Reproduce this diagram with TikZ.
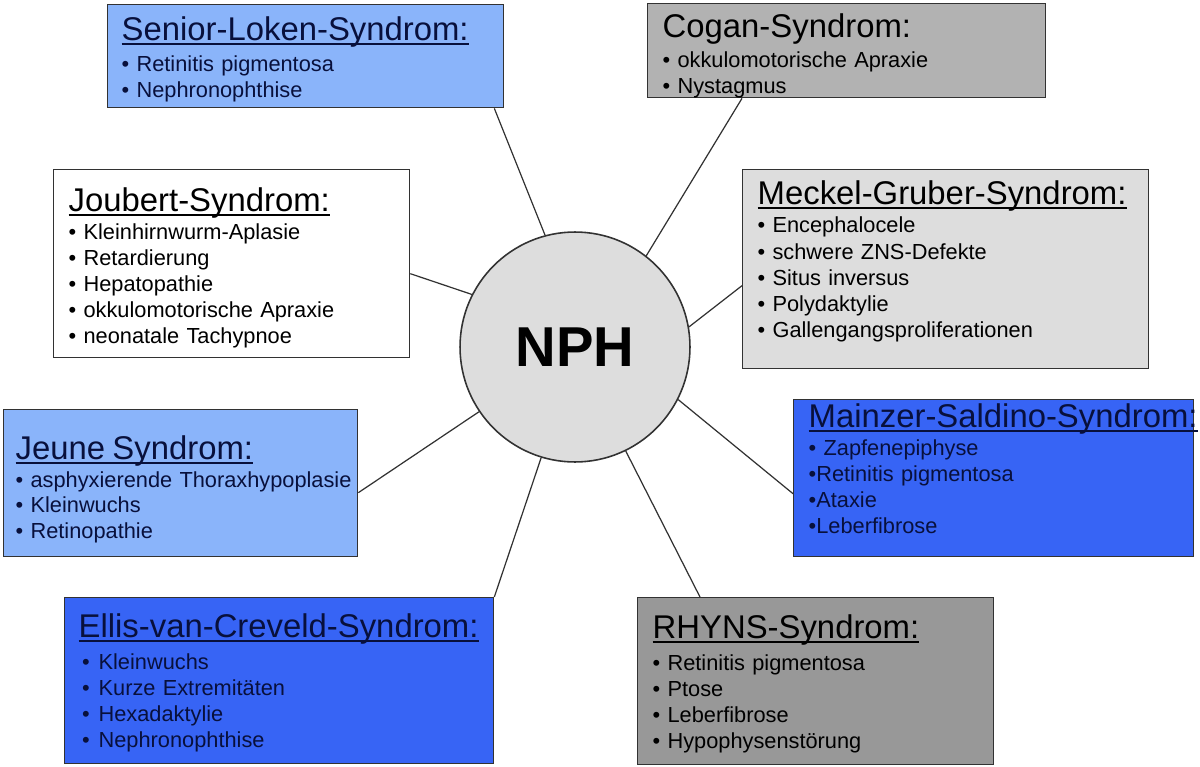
\documentclass[tikz,border=0pt]{standalone}
\usepackage{fontspec}
\setmainfont{Liberation Sans}
\definecolor{hellblau}{RGB}{138,180,250}
\definecolor{blau}{RGB}{55,100,245}
\definecolor{grau}{RGB}{178,178,178}
\definecolor{dunkelgrau}{RGB}{152,152,152}
\definecolor{hellgrau}{RGB}{221,221,221}
\definecolor{rand}{RGB}{50,50,50}
\definecolor{navy}{RGB}{8,16,60}
\newcommand\synul[1]{\setbox0\hbox{#1}\rlap{\rule[-2.2pt]{\wd0}{1.1pt}}\box0}
\newcommand\syntitle[1]{{\fontsize{18.7}{22}\selectfont\synul{#1}}}
\newcommand\synplain[1]{{\fontsize{18.7}{22}\selectfont #1}}
\tikzset{
  synbox/.style={draw=rand, line width=0.8pt, rectangle, anchor=north west,
    inner ysep=0pt, align=left, font=\fontsize{12.4}{14.86}\selectfont},
  link/.style={draw=rand, line width=0.7pt}
}
\begin{document}
\begin{tikzpicture}[x=0.02cm,y=-0.02cm]
	\useasboundingbox (0,0) rectangle (1200,767);
	% center
	\node[circle, draw=rand, line width=0.9pt, fill=hellgrau, minimum size=4.6cm,
	  font=\fontsize{32}{38}\selectfont\bfseries] (npc) at (575,347) {NPH};
	% boxes
	\node[synbox, fill=hellblau, text=navy, text width=7.36cm, inner xsep=0.28cm,
	  text height=0.72cm, text depth=1.34cm] (senior) at (107,4)
	  {\begin{tabular}[t]{@{}l@{}}\syntitle{Senior-Loken-Syndrom:}\\[2.5pt]
	  \textbullet\ Retinitis pigmentosa\\
	  \textbullet\ Nephronophthise\end{tabular}};
	\node[synbox, fill=grau, text width=7.36cm, inner xsep=0.3cm,
	  text height=0.68cm, text depth=1.2cm] (cogan) at (647,3)
	  {\begin{tabular}[t]{@{}l@{}}\synplain{Cogan-Syndrom:}\\[2pt]
	  \textbullet\ okkulomotorische Apraxie\\
	  \textbullet\ Nystagmus\end{tabular}};
	\node[synbox, fill=white, text width=6.52cm, inner xsep=0.3cm,
	  text height=0.84cm, text depth=2.92cm] (joubert) at (53,169)
	  {\begin{tabular}[t]{@{}l@{}}\syntitle{Joubert-Syndrom:}\\[0.8pt]
	  \textbullet\ Kleinhirnwurm-Aplasie\\
	  \textbullet\ Retardierung\\
	  \textbullet\ Hepatopathie\\
	  \textbullet\ okkulomotorische Apraxie\\
	  \textbullet\ neonatale Tachypnoe\end{tabular}};
	\node[synbox, fill=hellgrau, text width=7.52cm, inner xsep=0.3cm,
	  text height=0.7cm, text depth=3.28cm] (meckel) at (742,169)
	  {\begin{tabular}[t]{@{}l@{}}\syntitle{Meckel-Gruber-Syndrom:}\\[1.2pt]
	  \textbullet\ Encephalocele\\
	  \textbullet\ schwere ZNS-Defekte\\
	  \textbullet\ Situs inversus\\
	  \textbullet\ Polydaktylie\\
	  \textbullet\ Gallengangsproliferationen\end{tabular}};
	\node[synbox, fill=hellblau, text=navy, text width=6.6cm, inner xsep=0.24cm,
	  text height=1.0cm, text depth=1.94cm] (jeune) at (3,409)
	  {\begin{tabular}[t]{@{}l@{}}\syntitle{Jeune Syndrom:}\\[1pt]
	  \textbullet\ asphyxierende Thoraxhypoplasie\\[-0.6pt]
	  \textbullet\ Kleinwuchs\\
	  \textbullet\ Retinopathie\end{tabular}};
	\node[synbox, fill=blau, text=navy, text width=7.4cm, inner xsep=0.3cm,
	  text height=0.56cm, text depth=2.58cm] (mainzer) at (793,399)
	  {\begin{tabular}[t]{@{}l@{}}\syntitle{Mainzer-Saldino-Syndrom:}\\[1pt]
	  \textbullet\ Zapfenepiphyse\\
	  \textbullet Retinitis pigmentosa\\
	  \textbullet Ataxie\\
	  \textbullet Leberfibrose\end{tabular}};
	\node[synbox, fill=blau, text=navy, text width=8.02cm, inner xsep=0.28cm,
	  text height=0.8cm, text depth=2.52cm] (ellis) at (64,597)
	  {\begin{tabular}[t]{@{}l@{}}\syntitle{Ellis-van-Creveld-Syndrom:}\\[3pt]
	  \hspace{2pt}\textbullet\hspace{5pt}Kleinwuchs\\
	  \hspace{2pt}\textbullet\hspace{5pt}Kurze Extremitäten\\
	  \hspace{2pt}\textbullet\hspace{5pt}Hexadaktylie\\
	  \hspace{2pt}\textbullet\hspace{5pt}Nephronophthise\end{tabular}};
	\node[synbox, fill=dunkelgrau, text width=6.52cm, inner xsep=0.3cm,
	  text height=0.82cm, text depth=2.52cm] (rhyns) at (637,597)
	  {\begin{tabular}[t]{@{}l@{}}\syntitle{RHYNS-Syndrom:}\\[3pt]
	  \textbullet\ Retinitis pigmentosa\\
	  \textbullet\ Ptose\\
	  \textbullet\ Leberfibrose\\
	  \textbullet\ Hypophysenstörung\end{tabular}};
	% links
	\draw[link] ([xshift=-0.2cm]senior.south east) -- (npc.105);
	\draw[link] ([xshift=1.9cm]cogan.south west) -- (npc.52.5);
	\draw[link] ([yshift=-0.2cm]joubert.east) -- (npc.153.7);
	\draw[link] ([yshift=-0.33cm]meckel.west) -- (npc.10);
	\draw[link] ([yshift=-0.19cm]jeune.east) -- (npc.214);
	\draw[link] ([yshift=-0.31cm]mainzer.west) -- (npc.333);
	\draw[link] (ellis.north east) -- (npc.253.4);
	\draw[link] ([xshift=1.26cm]rhyns.north west) -- (npc.296.6);
\end{tikzpicture}
\end{document}
